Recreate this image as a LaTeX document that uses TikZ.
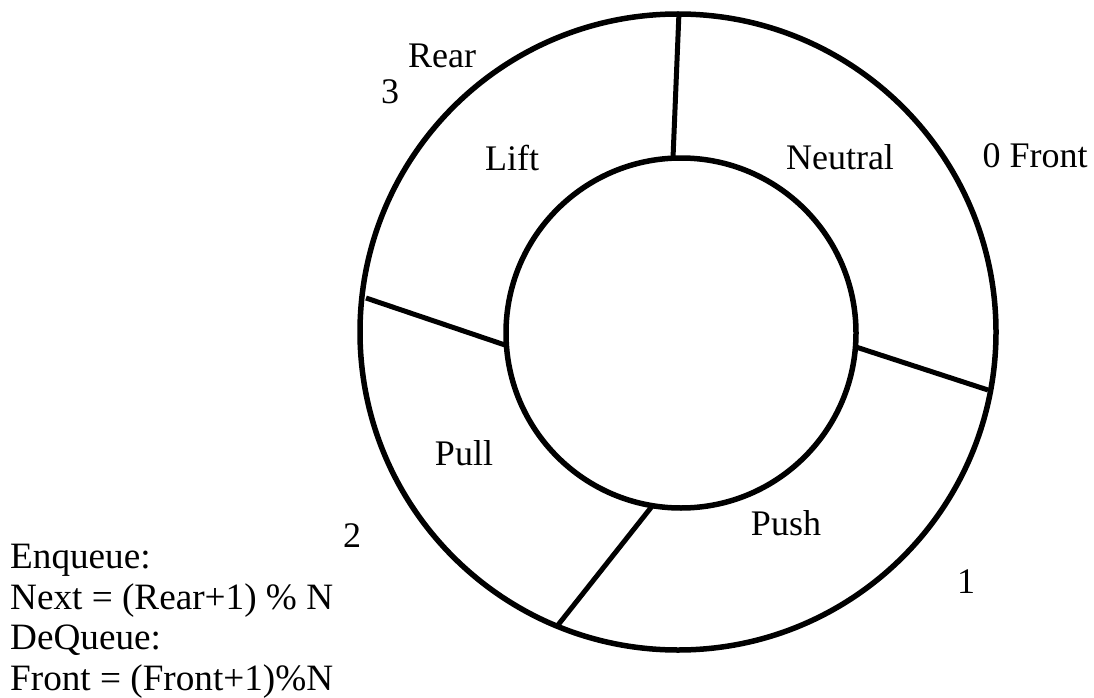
\documentclass[tikz,border=0pt]{standalone}
\usepackage{fontspec}
\setmainfont{Liberation Serif}
\begin{document}
\begin{tikzpicture}[x=1pt,y=-1pt,
  ring/.style={line width=5.5pt},
  spoke/.style={line width=5pt},
  lbl/.style={font=\fontsize{36}{41}\selectfont, inner sep=0pt, anchor=base},
  note/.style={font=\fontsize{37.2}{41}\selectfont, inner sep=0pt, anchor=base west}]
\useasboundingbox (0,0) rectangle (1094,698);

% ring centres
\coordinate (O) at (678,332);
\coordinate (I) at (681,333);

% outer and inner rings
\draw[ring] (O) circle[radius=318pt];
\draw[ring] (I) circle[radius=175pt];

% spoke end points on the two rings
\coordinate (topIn)  at (673,158);
\coordinate (topOut) at (679,12);
\coordinate (leftIn)  at (505,345);
\coordinate (leftOut) at (366,298);
\coordinate (rightIn)  at (856,347);
\coordinate (rightOut) at (988,390);
\coordinate (botIn)  at (653,505);
\coordinate (botOut) at (558,625);

\draw[spoke] (topIn) -- (topOut);
\draw[spoke] (leftIn) -- (leftOut);
\draw[spoke] (rightIn) -- (rightOut);
\draw[spoke] (botIn) -- (botOut);

% slot contents
\node[lbl] (lift) at (512,170) {Lift};
\node[lbl] (neutral) at (840,169) {Neutral};
\node[lbl] (pull) at (464,465) {Pull};
\node[lbl] (push) at (786,535) {Push};

% slot indices and pointers
\node[lbl] (rear) at (442,68) {Rear};
\node[lbl] (idx3) at (390,103) {3};
\node[lbl] (idx0) at (1035,167) {0 Front};
\node[lbl] (idx1) at (966,593) {1};
\node[lbl] (idx2) at (352,547) {2};

% queue operations
\node[note] (enq) at (10,568) {Enqueue:};
\node[note] (enqf) at (10,609) {Next = (Rear+1) \% N};
\node[note] (deq) at (10,649) {DeQueue:};
\node[note] (deqf) at (10,690) {Front = (Front+1)\%N};
\end{tikzpicture}
\end{document}
